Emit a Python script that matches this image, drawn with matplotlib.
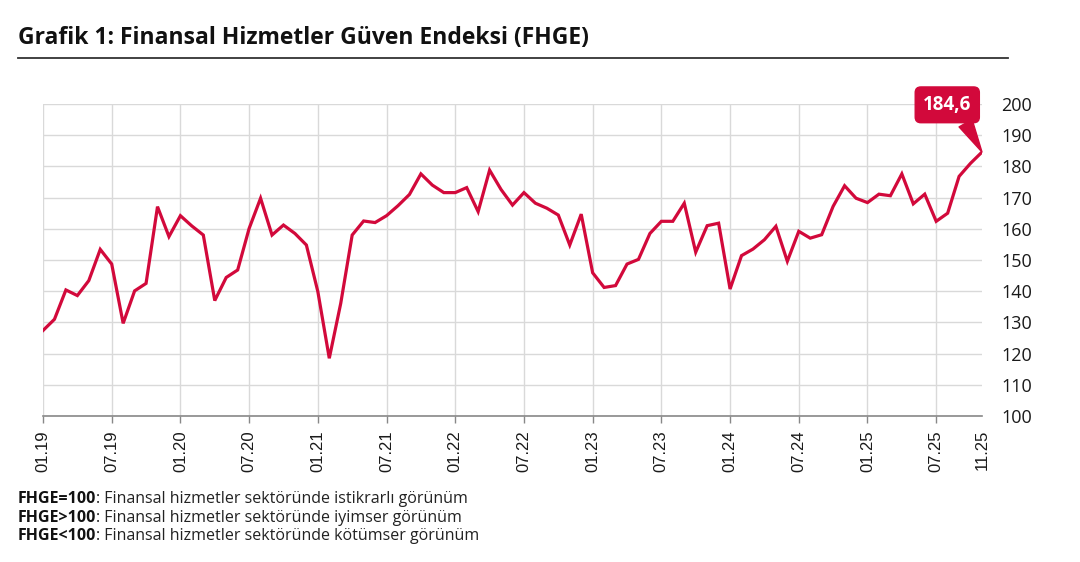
import matplotlib
matplotlib.use("Agg")
import matplotlib.pyplot as plt
from matplotlib.lines import Line2D

# ---- data ----
months = [f"{m:02d}.{y:02d}" for y in range(19, 26) for m in range(1, 13)][:83]
values = [
    127.4, 131.0, 140.4, 138.6, 143.4, 153.4, 148.7, 129.7, 140.1, 142.5, 167.1, 157.5,
    164.2, 160.9, 158.0, 137.0, 144.4, 146.8, 160.1, 169.8, 158.0, 161.2, 158.5, 154.8,
    139.9, 118.5, 136.1, 158.0, 162.5, 162.0, 164.2, 167.4, 171.0, 177.6, 174.0, 171.6,
    171.6, 173.2, 165.5, 178.8, 172.6, 167.6, 171.6, 168.2, 166.6, 164.4, 154.8, 164.7,
    145.9, 141.2, 141.8, 148.7, 150.2, 158.5, 162.4, 162.4, 168.2, 152.5, 161.0, 161.8,
    140.7, 151.4, 153.5, 156.5, 160.8, 149.6, 159.2, 157.0, 158.1, 167.2, 173.8, 169.8,
    168.4, 171.1, 170.6, 177.6, 168.0, 171.1, 162.4, 165.0, 176.8, 181.0, 184.6,
]
xtick_labels = ["01.19", "07.19", "01.20", "07.20", "01.21", "07.21", "01.22", "07.22",
                "01.23", "07.23", "01.24", "07.24", "01.25", "07.25", "11.25"]
yticks = list(range(100, 201, 10))
title = "Grafik 1: Finansal Hizmetler Güven Endeksi (FHGE)"
notes = [
    ("FHGE=100", ": Finansal hizmetler sektöründe istikrarlı görünüm"),
    ("FHGE>100", ": Finansal hizmetler sektöründe iyimser görünüm"),
    ("FHGE<100", ": Finansal hizmetler sektöründe kötümser görünüm"),
]
last_label = "184,6"

RED = "#d2093b"
GRID = "#d9d9d9"
TXT = "#1a1a1a"
FONT = "Open Sans"

W, H = 1080, 562
fig = plt.figure(figsize=(W / 100, H / 100), dpi=100)
fig.patch.set_facecolor("white")

left, right, top, bottom = 43, 982, 104, 416
ax = fig.add_axes([left / W, 1 - bottom / H, (right - left) / W, (bottom - top) / H])

x = list(range(len(values)))
ax.plot(x, values, color=RED, lw=2.3, solid_joinstyle="miter", zorder=3)

ax.set_xlim(0, len(values) - 1)
ax.set_ylim(100, 200)

pos = [months.index(l) for l in xtick_labels]
ax.set_xticks(pos)
ax.set_xticklabels(xtick_labels, rotation=90, family="Liberation Sans", fontsize=12, color=TXT)
ax.set_yticks(yticks)
ax.set_yticklabels([str(v) for v in yticks], family=FONT, fontsize=13, color=TXT)
ax.yaxis.tick_right()
ax.tick_params(axis="y", length=0, pad=14)
ax.tick_params(axis="x", length=5, width=1, color="#888888", pad=5)

# grid
ax.grid(True, color=GRID, lw=1.0, zorder=0)
for t in ax.xaxis.get_major_ticks():
    if t.get_loc() == len(values) - 1:
        t.gridline.set_visible(False)
        t.tick1line.set_visible(False)
for s in ["top", "right", "left"]:
    ax.spines[s].set_visible(False)
ax.spines["bottom"].set_color("#888888")
ax.spines["bottom"].set_linewidth(1.2)

# callout
ax.annotate(last_label, xy=(x[-1], values[-1]), xytext=(-25, 34), textcoords="offset points",
            ha="center", va="center", color="white", fontsize=13.5, fontweight="bold",
            family=FONT,
            bbox=dict(boxstyle="round,pad=0.42,rounding_size=0.3", fc=RED, ec=RED),
            arrowprops=dict(arrowstyle="wedge,tail_width=0.8,shrink_factor=0.5", fc=RED, ec=RED,
                            relpos=(0.78, 0.0), shrinkA=0, shrinkB=0),
            zorder=5)

# title and rule
fig.text(18 / W, 1 - 38 / H, title, family=FONT, fontweight="bold", fontsize=16.5,
         color="#111111", va="center", ha="left")
fig.add_artist(Line2D([18 / W, 1008 / W], [1 - 58 / H, 1 - 58 / H], color="#333333", lw=1.3))

# notes
for i, (b, r) in enumerate(notes):
    yy = 1 - (499 + i * 18.5) / H
    t = fig.text(18 / W, yy, b, family=FONT, fontweight="bold", fontsize=11.5,
                 color="#111111", va="center", ha="left")
    fig.canvas.draw()
    bb = t.get_window_extent()
    fig.text(bb.x1 / W, yy, r, family=FONT, fontsize=11.5, color="#222222",
             va="center", ha="left")

fig.savefig("out.png", dpi=100, facecolor="white")
